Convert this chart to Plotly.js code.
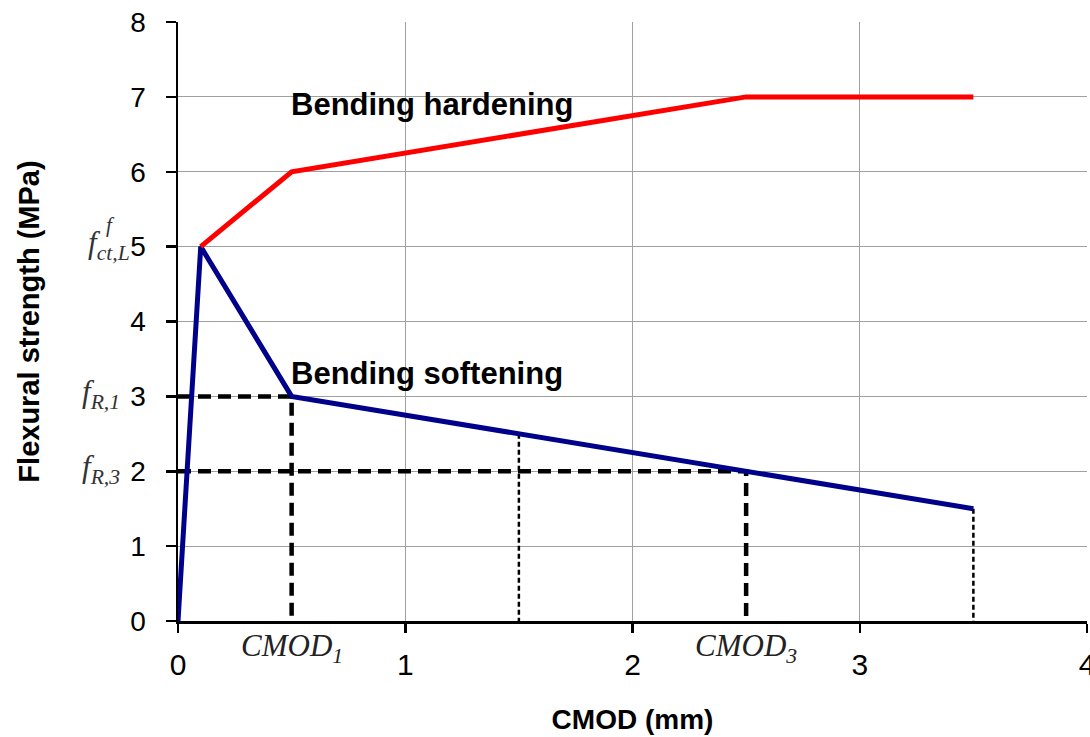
<!DOCTYPE html>
<html>
<head>
<meta charset="utf-8">
<script src="https://cdn.plot.ly/plotly-3.0.1.min.js"></script>
<style>html,body{margin:0;padding:0;background:#fff;}#chart{width:1090px;height:737px;}</style>
</head>
<body>
<div id="chart"></div>
<script>
// Data
const softCmod = [0, 0.1, 0.5, 1.5, 2.5, 3.5];
const softStress = [0, 5, 3, 2.5, 2, 1.5];
const hardCmod = [0.1, 0.5, 2.5, 3.5];
const hardStress = [5, 6, 7, 7];
const refCmod = [0.5, 2.5];      // CMOD1, CMOD3 (thick dashed guides)
const refStress = [3, 2];        // fR,1, fR,3
const dropCmod = [1.5, 3.5];     // thin dotted drops
const dropStress = [2.5, 1.5];
const xTicks = [0, 1, 2, 3, 4];
const yTicks = [0, 1, 2, 3, 4, 5, 6, 7, 8];
const xSpecial = ["CMOD<sub>1</sub>", "CMOD<sub>3</sub>"];
const ySpecial = [
  {y: 5, text: "f<sub>ct,L</sub>", shift: -46},
  {y: 3, text: "f<sub>R,1</sub>", shift: -56},
  {y: 2, text: "f<sub>R,3</sub>", shift: -56}
];

const traces = [];
// thick dashed guides (horizontal and vertical)
refCmod.forEach((c, i) => {
  traces.push({x: [0, c, c], y: [refStress[i], refStress[i], 0], mode: 'lines',
    line: {color: '#000', width: 4.5, dash: '13px,7px'}, hoverinfo: 'skip', showlegend: false});
});
// thin dotted drops
dropCmod.forEach((c, i) => {
  traces.push({x: [c, c], y: [dropStress[i], 0], mode: 'lines',
    line: {color: '#000', width: 2.5, dash: '5px,3px'}, hoverinfo: 'skip', showlegend: false});
});
traces.push({x: softCmod, y: softStress, mode: 'lines', line: {color: '#00008b', width: 5}, showlegend: false});
traces.push({x: hardCmod, y: hardStress, mode: 'lines', line: {color: '#ff0000', width: 5}, showlegend: false});

const serifFam = '"Liberation Serif", "DejaVu Serif", serif';
const sans = 'Arial, "Liberation Sans", sans-serif';
const annotations = [
  {x: 0.49, y: 6.9, xref: 'x', yref: 'y', text: '<b>Bending hardening</b>', showarrow: false,
   xanchor: 'left', yanchor: 'middle', font: {family: sans, size: 31, color: '#000'}},
  {x: 0.49, y: 3.31, xref: 'x', yref: 'y', text: '<b>Bending softening</b>', showarrow: false,
   xanchor: 'left', yanchor: 'middle', font: {family: sans, size: 31, color: '#000'}}
];
refCmod.forEach((c, i) => {
  annotations.push({x: c, y: 0, xref: 'x', yref: 'y', yshift: -27, text: '<i>' + xSpecial[i] + '</i>',
    showarrow: false, xanchor: 'center', yanchor: 'middle', font: {family: serifFam, size: 31, color: '#222'}});
});
ySpecial.forEach(s => {
  annotations.push({x: 0, y: s.y, xref: 'x', yref: 'y', xshift: s.shift, yshift: 2, text: '<i>' + s.text + '</i>',
    showarrow: false, xanchor: 'right', yanchor: 'middle', font: {family: serifFam, size: 31, color: '#333'}});
});
annotations.push({x: 0, y: 5, xref: 'x', yref: 'y', xshift: -68, yshift: 22, text: '<i>f</i>',
  showarrow: false, xanchor: 'center', yanchor: 'middle', font: {family: serifFam, size: 21, color: '#333'}});

const layout = {
  width: 1090, height: 737,
  margin: {l: 178, r: 3, t: 22, b: 116},
  paper_bgcolor: '#fff', plot_bgcolor: '#fff',
  font: {family: sans, color: '#000'},
  xaxis: {
    range: [0, 4], tickvals: xTicks, ticktext: xTicks.map(String),
    showgrid: true, gridcolor: '#a0a0a0', gridwidth: 1.2, zeroline: false,
    showline: true, linecolor: '#000', linewidth: 2.5,
    ticks: 'outside', ticklen: 9, tickwidth: 2.5, tickcolor: '#000',
    ticklabelstandoff: 6, ticklabeloverflow: 'allow',
    tickfont: {size: 30, color: '#000'},
    title: {text: '<b>CMOD (mm)</b>', font: {size: 28, color: '#000'}, standoff: 30},
    fixedrange: true
  },
  yaxis: {
    range: [0, 8], tickvals: yTicks, ticktext: yTicks.map(String),
    showgrid: true, gridcolor: '#a0a0a0', gridwidth: 1.2, zeroline: false,
    showline: true, linecolor: '#000', linewidth: 2.5,
    ticks: 'outside', ticklen: 10, tickwidth: 2.5, tickcolor: '#000',
    ticklabelstandoff: 14, ticklabeloverflow: 'allow',
    tickfont: {size: 28, color: '#000'},
    title: {text: '<b>Flexural strength (MPa)</b>', font: {size: 29, color: '#000'}, standoff: 82},
    fixedrange: true
  },
  annotations: annotations,
  showlegend: false
};

Plotly.newPlot('chart', traces, layout, {displayModeBar: false, staticPlot: true});
</script>
</body>
</html>
